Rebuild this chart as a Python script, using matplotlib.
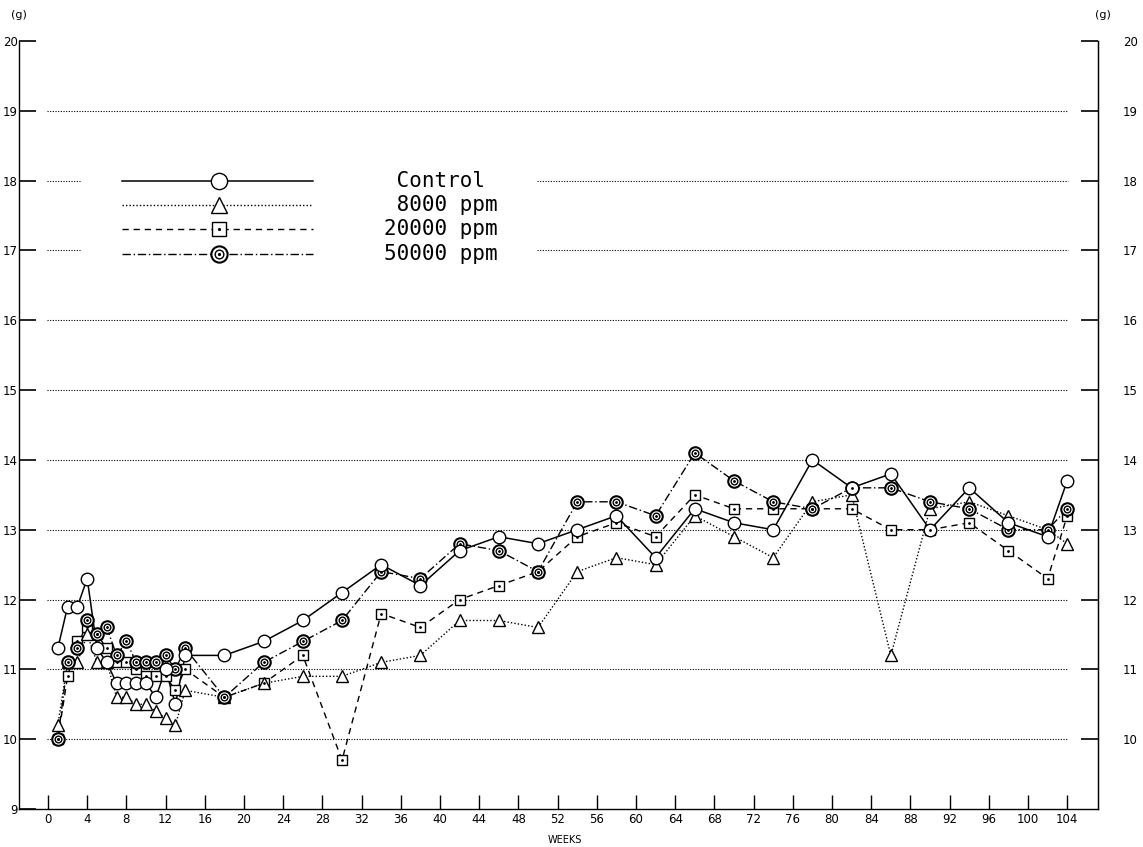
import matplotlib
matplotlib.use("Agg")
import matplotlib.pyplot as plt

# weeks on test
weeks = list(range(1, 15)) + list(range(18, 103, 4)) + [104]

control = [11.3, 11.9, 11.9, 12.3, 11.3, 11.1, 10.8, 10.8, 10.8, 10.8, 10.6, 11.0, 10.5, 11.2,
           11.2, 11.4, 11.7, 12.1, 12.5, 12.2, 12.7, 12.9, 12.8, 13.0, 13.2, 12.6, 13.3,
           13.1, 13.0, 14.0, 13.6, 13.8, 13.0, 13.6, 13.1, 12.9, 13.7]
ppm8000 = [10.2, 11.1, 11.1, 11.5, 11.1, 11.1, 10.6, 10.6, 10.5, 10.5, 10.4, 10.3, 10.2, 10.7,
           10.6, 10.8, 10.9, 10.9, 11.1, 11.2, 11.7, 11.7, 11.6, 12.4, 12.6, 12.5, 13.2,
           12.9, 12.6, 13.4, 13.5, 11.2, 13.3, 13.4, 13.2, 13.0, 12.8]
ppm20000 = [10.0, 10.9, 11.4, 11.6, 11.5, 11.3, 11.1, 11.1, 11.0, 10.9, 10.9, 10.9, 10.7, 11.0,
            10.6, 10.8, 11.2, 9.7, 11.8, 11.6, 12.0, 12.2, 12.4, 12.9, 13.1, 12.9, 13.5,
            13.3, 13.3, 13.3, 13.3, 13.0, 13.0, 13.1, 12.7, 12.3, 13.2]
ppm50000 = [10.0, 11.1, 11.3, 11.7, 11.5, 11.6, 11.2, 11.4, 11.1, 11.1, 11.1, 11.2, 11.0, 11.3,
            10.6, 11.1, 11.4, 11.7, 12.4, 12.3, 12.8, 12.7, 12.4, 13.4, 13.4, 13.2, 14.1,
            13.7, 13.4, 13.3, 13.6, 13.6, 13.4, 13.3, 13.0, 13.0, 13.3]

labels = [" Control", " 8000 ppm", "20000 ppm", "50000 ppm"]
x_ticks = list(range(0, 105, 4))
grid_levels = list(range(10, 20))

dot = (0, (1, 1.4))
styles = {
    "control": dict(ls="-", lw=1.1),
    "8000": dict(ls=(0, (1, 1.5)), lw=1.0),
    "20000": dict(ls=(0, (4.5, 3.5)), lw=1.0),
    "50000": dict(ls=(0, (6, 2, 1, 2)), lw=1.0),
}


def markers(ax, x, y, kind, big=False):
    s = 1.3 if big else 1.0
    kw = dict(ls="none", color="black", mfc="white", zorder=4, clip_on=False)
    if kind == "control":
        ax.plot(x, y, marker="o", ms=9 * s, mew=1.0, **kw)
    elif kind == "8000":
        ax.plot(x, y, marker="^", ms=9 * s, mew=1.0, **kw)
    elif kind == "20000":
        ax.plot(x, y, marker="s", ms=7.5 * s, mew=1.0, **kw)
        ax.plot(x, y, marker=".", ms=2 * s, ls="none", color="black", zorder=5)
    else:
        ax.plot(x, y, marker="o", ms=9 * s, mew=1.5, **kw)
        ax.plot(x, y, marker="o", ms=4.8 * s, mew=1.0, **kw)
        ax.plot(x, y, marker=".", ms=2 * s, ls="none", color="black", zorder=5)


fig = plt.figure(figsize=(11.43, 8.47), dpi=100)
ax = fig.add_axes([19 / 1143, 1 - 809 / 847, (1098 - 19) / 1143, (809 - 41) / 847])
ax.set_xlim(-2.96, 107.14)
ax.set_ylim(9, 20)

# dotted grid, broken where the legend sits
for g in grid_levels:
    if g in (17, 18):
        ax.hlines(g, -0.1, 3.3, color="black", lw=0.8, linestyles=[dot])
        ax.hlines(g, 49.9, 104.1, color="black", lw=0.8, linestyles=[dot])
    else:
        ax.hlines(g, -0.1, 104.1, color="black", lw=0.8, linestyles=[dot])

series = [("control", control), ("8000", ppm8000), ("20000", ppm20000), ("50000", ppm50000)]
for kind, vals in series:
    ax.plot(weeks, vals, color="black", zorder=2, **styles[kind])
for kind, vals in [("20000", ppm20000), ("8000", ppm8000), ("50000", ppm50000), ("control", control)]:
    markers(ax, weeks, vals, kind)

# legend
leg_y = [17.99, 17.65, 17.31, 16.95]
for (kind, _), yy, lab in zip(series, leg_y, labels):
    ax.plot([7.55, 27.04], [yy, yy], color="black", zorder=2, **styles[kind])
    markers(ax, [17.45], [yy], kind, big=True)
    ax.text(34.3, yy, lab, family="DejaVu Sans Mono", fontsize=15, va="center", ha="left")

for sp in ["top"]:
    ax.spines[sp].set_visible(False)
for sp in ["left", "right", "bottom"]:
    ax.spines[sp].set_linewidth(1.0)

ax.set_xticks(x_ticks)
ax.set_xticklabels([str(t) for t in x_ticks])
ax.tick_params(axis="x", direction="in", length=10, width=1, labelsize=8.5, pad=3)
ax.set_yticks(range(9, 21))
ax.tick_params(axis="y", direction="in", length=12, width=1.2, labelsize=8.5, pad=1,
               right=False)

ax2 = ax.twinx()
ax2.set_ylim(9, 20)
ax2.set_yticks(range(10, 21))
ax2.tick_params(axis="y", direction="in", length=12, width=1.2, labelsize=8.5, pad=18)
for sp in ["top", "left", "bottom"]:
    ax2.spines[sp].set_visible(False)

fig.text(19 / 1143, 1 - 15 / 847, "(g)", fontsize=8, ha="center", va="center")
fig.text(1103 / 1143, 1 - 15 / 847, "(g)", fontsize=8, ha="center", va="center")
fig.text(565 / 1143, 1 - 840 / 847, "WEEKS", fontsize=7, ha="center", va="center")

fig.savefig("out.png", dpi=100)
